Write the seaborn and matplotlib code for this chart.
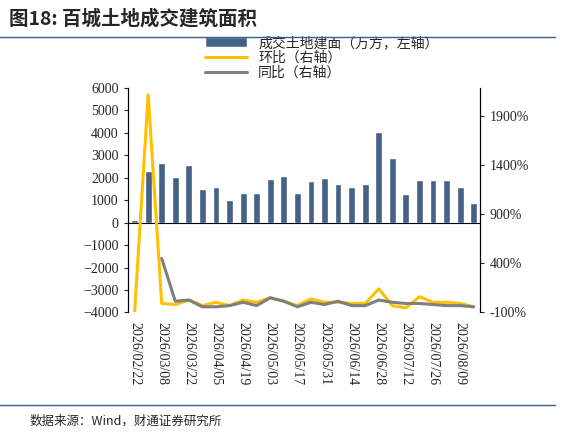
import pandas as pd
import numpy as np
import matplotlib
matplotlib.use("Agg")
import matplotlib.pyplot as plt
import seaborn as sns

sns.set_style("white")
plt.rcParams['font.family'] = ['Liberation Serif', 'Noto Sans CJK SC']

dates = pd.date_range("2026-02-22", periods=26, freq="7D")
area = [100, 2280, 2660, 2020, 2580, 1520, 1600, 1000, 1300, 1320, 1940, 2100, 1340,
        1860, 1980, 1740, 1590, 1700, 4030, 2870, 1270, 1920, 1920, 1910, 1600, 890]
mom = [-100, 2117, -9, -20, 26, -31, 3, -31, 26, 3, 49, 14, -31, 37, 3, 3, -9, -9,
       140, -31, -54, 60, 3, 3, -9, -43]
yoy = [np.nan, np.nan, 449, 14, 26, -43, -43, -31, 3, -31, 49, 14, -43, 3, -20, 14,
       -31, -31, 26, 3, -9, -9, -20, -31, -31, -43]

df = pd.DataFrame({"x": np.arange(len(dates)), "area": area, "mom": mom, "yoy": yoy})

fig = plt.figure(figsize=(5.81, 4.40), dpi=100)
ax = fig.add_axes([0.22, 0.29, 0.607, 0.51])
sns.barplot(data=df, x="x", y="area", color="#3a5f93", width=0.5, ax=ax,
            label="成交土地建面（万方，左轴）")
ax.set_ylim(-4000, 6000)
ax.set_yticks(range(-4000, 6001, 1000))
ax.set_xlim(-0.5, len(dates) - 0.5)
ax.axhline(0, color="black", lw=0.8)
ax.set_xlabel("")
ax.set_ylabel("")
ax.set_xticks(np.arange(0, len(dates), 2))
ax.set_xticklabels([d.strftime("%Y/%m/%d") for d in dates[::2]], rotation=270, fontsize=10)
ax.tick_params(axis="y", labelsize=10)

ax2 = ax.twinx()
sns.lineplot(data=df, x="x", y="mom", color="#ffc000", lw=2.2, ax=ax2, label="环比（右轴）")
sns.lineplot(data=df, x="x", y="yoy", color="#7f7f7f", lw=2.2, ax=ax2, label="同比（右轴）")
ax2.set_ylim(-100, 2186)
ax2.set_yticks([-100, 400, 900, 1400, 1900])
ax2.set_yticklabels([f"{v}%" for v in [-100, 400, 900, 1400, 1900]], fontsize=10)
ax2.set_ylabel("")
ax2.get_legend().remove()

for a in (ax, ax2):
    for s in ["top"]:
        a.spines[s].set_visible(False)
    a.spines["left"].set_color("black")
    a.spines["right"].set_color("black")
    a.spines["bottom"].set_visible(False)
ax.tick_params(axis="y", direction="out", length=3, left=True)
ax2.tick_params(axis="y", direction="out", length=3, right=True)

h1, l1 = ax.get_legend_handles_labels()
h2, l2 = ax2.get_legend_handles_labels()
ax.legend(h1 + h2, l1 + l2, loc="lower center", bbox_to_anchor=(0.55, 1.0), frameon=False,
          fontsize=10, handlelength=3, labelspacing=0.1, borderaxespad=0.2)

fig.text(0.015, 0.945, "图18: 百城土地成交建筑面积", fontsize=14, fontweight="bold",
         family=['Noto Sans CJK SC'])
fig.add_artist(plt.Line2D([0.0, 0.955], [0.915, 0.915], color="#3a5f93", lw=1))
fig.add_artist(plt.Line2D([0.0, 0.955], [0.08, 0.08], color="#3a5f93", lw=1))
fig.text(0.05, 0.035, "数据来源：Wind，财通证券研究所", fontsize=9, family=['Noto Sans CJK SC'])

fig.savefig("out.png", dpi=100)
